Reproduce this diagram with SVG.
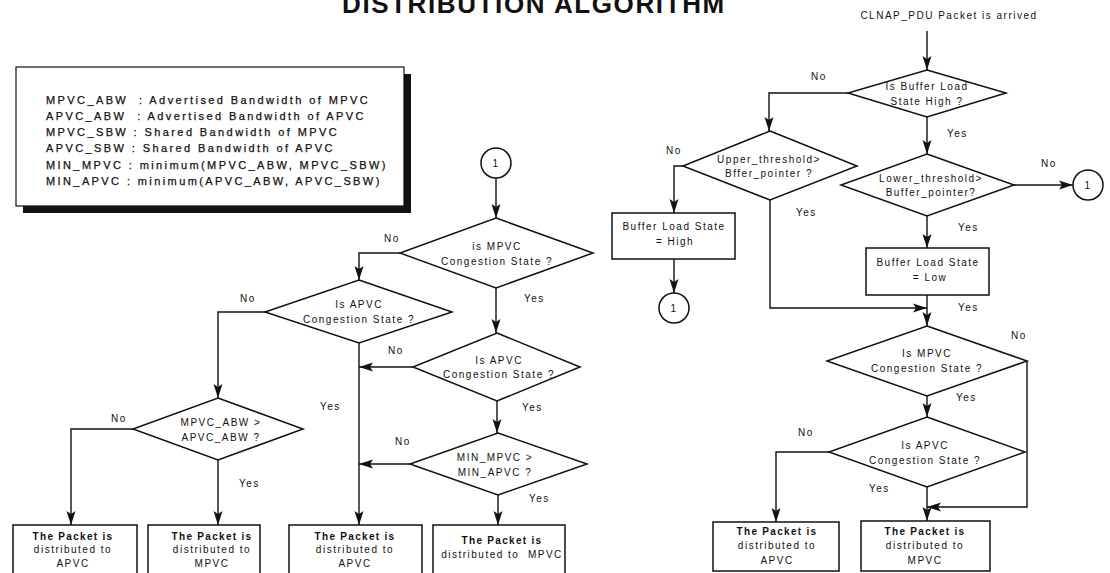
<svg xmlns="http://www.w3.org/2000/svg" width="1110" height="573" viewBox="0 0 1110 573">
<style>
text{font-family:"Liberation Sans",Arial,sans-serif;fill:#111}
.title{font-size:26px;font-weight:bold;letter-spacing:1.6px}
.lg{font-size:11px;letter-spacing:2.4px;stroke:#111;stroke-width:0.25}
.t{font-size:10px;letter-spacing:1.5px;text-anchor:middle}
.lb{font-size:10px;letter-spacing:1.5px}
.tb{font-size:10px;letter-spacing:1.3px;text-anchor:middle;font-weight:bold}
.sh{fill:#fff;stroke:#111;stroke-width:1.5}
.ln{fill:none;stroke:#111;stroke-width:1.4}
.ar{marker-end:url(#ah)}
</style>
<defs>
<marker id="ah" markerUnits="userSpaceOnUse" markerWidth="15" markerHeight="10" refX="14" refY="5" orient="auto">
<path d="M0,0.5 L14,5 L0,9.5 L3,5 Z" fill="#111"/>
</marker>
</defs>
<rect width="1110" height="573" fill="#fff"/>
<text class="title" x="342" y="13">DISTRIBUTION ALGORITHM</text>

<g id="legend">
<rect x="23" y="74" width="388" height="139" fill="#111"/>
<rect x="16" y="67" width="388" height="139" fill="#fff" stroke="#111" stroke-width="1.2"/>
<text class="lg" x="46" y="104" xml:space="preserve">MPVC_ABW  : Advertised Bandwidth of MPVC</text>
<text class="lg" x="46" y="120" xml:space="preserve">APVC_ABW  : Advertised Bandwidth of APVC</text>
<text class="lg" x="46" y="136">MPVC_SBW : Shared Bandwidth of MPVC</text>
<text class="lg" x="46" y="152">APVC_SBW : Shared Bandwidth of APVC</text>
<text class="lg" x="46" y="169">MIN_MPVC : minimum(MPVC_ABW, MPVC_SBW)</text>
<text class="lg" x="46" y="185">MIN_APVC : minimum(APVC_ABW, APVC_SBW)</text>
</g>

<!-- left flowchart -->
<g id="c1-left">
<circle class="sh" cx="496" cy="163" r="15"/>
<text class="t" x="496" y="167">1</text>
</g>
<g id="d-mpvc-left">
<polygon class="sh" points="496,218 593,253 496,288 400,253"/>
<text class="t" x="497" y="250">is MPVC</text>
<text class="t" x="497" y="265">Congestion State ?</text>
</g>
<g id="d-apvc-left">
<polygon class="sh" points="359,280 452,312 359,343 265,312"/>
<text class="t" x="359" y="308">Is APVC</text>
<text class="t" x="359" y="323">Congestion State ?</text>
</g>
<g id="d-apvc-mid">
<polygon class="sh" points="497,333 580,367 497,401 413,367"/>
<text class="t" x="499" y="364">Is APVC</text>
<text class="t" x="499" y="378">Congestion State ?</text>
</g>
<g id="d-abw">
<polygon class="sh" points="218,398 303,429 218,460 133,429"/>
<text class="t" x="221" y="426">MPVC_ABW &gt;</text>
<text class="t" x="221" y="441">APVC_ABW ?</text>
</g>
<g id="d-min">
<polygon class="sh" points="498,433 587,464 498,495 410,464"/>
<text class="t" x="495" y="461">MIN_MPVC &gt;</text>
<text class="t" x="495" y="476">MIN_APVC ?</text>
</g>
<g id="b1">
<rect class="sh" x="13" y="525" width="124" height="60"/>
<text class="tb" x="73" y="540">The Packet is</text>
<text class="t" x="73" y="553">distributed to</text>
<text class="t" x="73" y="567">APVC</text>
</g>
<g id="b2">
<rect class="sh" x="148" y="525" width="112" height="60"/>
<text class="tb" x="212" y="540">The Packet is</text>
<text class="t" x="212" y="553">distributed to</text>
<text class="t" x="212" y="567">MPVC</text>
</g>
<g id="b3">
<rect class="sh" x="289" y="525" width="133" height="60"/>
<text class="tb" x="355" y="540">The Packet is</text>
<text class="t" x="355" y="553">distributed to</text>
<text class="t" x="355" y="567">APVC</text>
</g>
<g id="b4">
<rect class="sh" x="433" y="525" width="132" height="60"/>
<text class="tb" x="502" y="544">The Packet is</text>
<text class="t" x="502" y="558" xml:space="preserve">distributed to  MPVC</text>
</g>

<!-- right flowchart -->
<g id="start">
<text class="t" x="949" y="19">CLNAP_PDU Packet is arrived</text>
</g>
<g id="d-buffer">
<polygon class="sh" points="927,70 1006,93 927,117 848,93"/>
<text class="t" x="927" y="90">Is Buffer Load</text>
<text class="t" x="927" y="105">State High ?</text>
</g>
<g id="d-upper">
<polygon class="sh" points="770,131 857,166 770,200 683,166"/>
<text class="t" x="769" y="163">Upper_threshold&gt;</text>
<text class="t" x="769" y="177">Bffer_pointer ?</text>
</g>
<g id="d-lower">
<polygon class="sh" points="927,154 1014,185 927,216 841,185"/>
<text class="t" x="931" y="182">Lower_threshold&gt;</text>
<text class="t" x="931" y="196">Buffer_pointer?</text>
</g>
<g id="c1-right">
<circle class="sh" cx="1088" cy="185" r="15"/>
<text class="t" x="1088" y="189">1</text>
</g>
<g id="b-high">
<rect class="sh" x="612" y="213" width="123" height="46"/>
<text class="t" x="674" y="230">Buffer Load State</text>
<text class="t" x="675" y="245">= High</text>
</g>
<g id="c1-high">
<circle class="sh" cx="674" cy="308" r="15"/>
<text class="t" x="674" y="312">1</text>
</g>
<g id="b-low">
<rect class="sh" x="866" y="248" width="123" height="47"/>
<text class="t" x="928" y="266">Buffer Load State</text>
<text class="t" x="930" y="281">= Low</text>
</g>
<g id="d-mpvc-right">
<polygon class="sh" points="927,326 1027,361 927,396 827,361"/>
<text class="t" x="927" y="357">Is MPVC</text>
<text class="t" x="927" y="372">Congestion State ?</text>
</g>
<g id="d-apvc-right">
<polygon class="sh" points="927,417 1025,452 927,487 829,452"/>
<text class="t" x="925" y="449">Is APVC</text>
<text class="t" x="925" y="464">Congestion State ?</text>
</g>
<g id="b-r1">
<rect class="sh" x="713" y="522" width="126" height="49"/>
<text class="tb" x="777" y="535">The Packet is</text>
<text class="t" x="777" y="549">distributed to</text>
<text class="t" x="777" y="564">APVC</text>
</g>
<g id="b-r2">
<rect class="sh" x="861" y="521" width="129" height="50"/>
<text class="tb" x="925" y="535">The Packet is</text>
<text class="t" x="925" y="549">distributed to</text>
<text class="t" x="925" y="564">MPVC</text>
</g>

<g id="connectors">
<path class="ln ar" d="M496,178 V218"/>
<path class="ln ar" d="M400,253 H359 V280"/>
<path class="ln ar" d="M496,288 V333"/>
<path class="ln ar" d="M265,312 H218 V398"/>
<path class="ln ar" d="M359,343 V525"/>
<path class="ln ar" d="M413,367 H359"/>
<path class="ln ar" d="M497,401 V433"/>
<path class="ln ar" d="M410,464 H359"/>
<path class="ln ar" d="M498,495 V525"/>
<path class="ln ar" d="M133,429 H71 V525"/>
<path class="ln ar" d="M218,460 V525"/>

<path class="ln ar" d="M927,31 V70"/>
<path class="ln ar" d="M848,93 H769 V131"/>
<path class="ln ar" d="M927,117 V154"/>
<path class="ln ar" d="M1014,185 H1073"/>
<path class="ln ar" d="M683,166 H674 V213"/>
<path class="ln ar" d="M770,200 V308 H927"/>
<path class="ln ar" d="M674,259 V293"/>
<path class="ln ar" d="M927,216 V248"/>
<path class="ln ar" d="M927,295 V326"/>
<path class="ln ar" d="M1027,361 V507 H927"/>
<path class="ln ar" d="M927,396 V417"/>
<path class="ln ar" d="M829,452 H776 V522"/>
<path class="ln ar" d="M927,487 V521"/>

<text class="lb" x="384" y="242">No</text>
<text class="lb" x="524" y="302">Yes</text>
<text class="lb" x="240" y="302">No</text>
<text class="lb" x="320" y="410">Yes</text>
<text class="lb" x="388" y="354">No</text>
<text class="lb" x="522" y="411">Yes</text>
<text class="lb" x="395" y="445">No</text>
<text class="lb" x="529" y="502">Yes</text>
<text class="lb" x="111" y="422">No</text>
<text class="lb" x="239" y="487">Yes</text>

<text class="lb" x="811" y="80">No</text>
<text class="lb" x="947" y="137">Yes</text>
<text class="lb" x="1041" y="167">No</text>
<text class="lb" x="666" y="154">No</text>
<text class="lb" x="796" y="216">Yes</text>
<text class="lb" x="958" y="231">Yes</text>
<text class="lb" x="958" y="311">Yes</text>
<text class="lb" x="1011" y="339">No</text>
<text class="lb" x="956" y="401">Yes</text>
<text class="lb" x="798" y="436">No</text>
<text class="lb" x="869" y="492">Yes</text>
</g>
</svg>
